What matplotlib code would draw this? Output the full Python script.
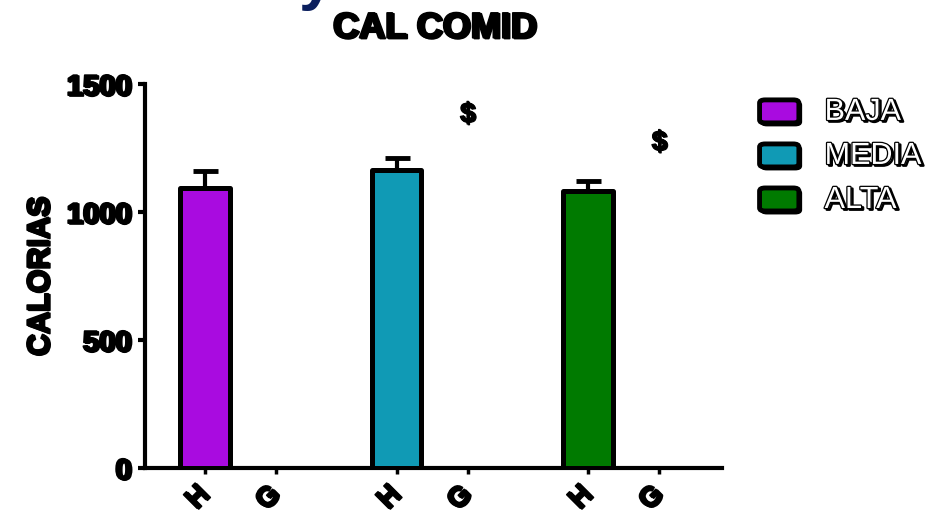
import numpy as np
import matplotlib
matplotlib.use('Agg')
import matplotlib.pyplot as plt
import matplotlib.patheffects as pe
from matplotlib.patches import FancyBboxPatch

plt.rcParams['font.family'] = ['Liberation Sans', 'DejaVu Sans']

# calories per group: H = measured, G = empty column
groups = ['BAJA', 'MEDIA', 'ALTA']
h_means = [1094, 1164, 1082]
h_errs = [66, 47, 39]
tick_labels = ['H', 'G', 'H', 'G', 'H', 'G']
sig_marks = ['', '$', '$']
sig_y = [0, 1380, 1270]
colors = ['#A90BE0', '#109AB5', '#007A00']

GROUP_STEP = 2.7
BAR_W = 0.7

def bold_fx(lw=1.2, dx=1.2):
    return [pe.Stroke(linewidth=lw, foreground='black', offset=(dx, -0.6)),
            pe.Stroke(linewidth=lw, foreground='black'), pe.Normal()]

fig = plt.figure(figsize=(9.36, 5.23), dpi=100)
ax = fig.add_axes([0.155, 0.105, 0.616, 0.734])

h_pos = np.arange(len(groups)) * GROUP_STEP
g_pos = h_pos + 1

for x, m, e, c in zip(h_pos, h_means, h_errs, colors):
    ax.errorbar(x, m, yerr=[[0], [e]], fmt='none', ecolor='black',
                elinewidth=3, capsize=9, capthick=3.5, zorder=2)
    ax.bar(x, m, width=BAR_W, color=c, edgecolor='black', linewidth=3.6,
           joinstyle='round', zorder=3)

for x, s, y in zip(g_pos, sig_marks, sig_y):
    if s:
        ax.text(x, y, s, ha='center', va='center', fontsize=20,
                fontweight='bold', path_effects=bold_fx(0.8, 0.8))

ax.set_xlim(-0.845, 7.28)
ax.set_ylim(0, 1500)
ax.set_yticks([0, 500, 1000, 1500])
ax.set_xticks(np.sort(np.concatenate([h_pos, g_pos])))
ax.set_xticklabels(tick_labels)

for side in ['top', 'right']:
    ax.spines[side].set_visible(False)
for side in ['left', 'bottom']:
    ax.spines[side].set_linewidth(3)
ax.spines['left'].set_capstyle('projecting')

ax.tick_params(axis='y', direction='out', length=5, width=3, pad=5)
ax.tick_params(axis='x', direction='out', length=4, width=2.5, pad=12)
for lab in ax.get_yticklabels():
    lab.set_fontsize(21)
    lab.set_fontweight('bold')
    lab.set_path_effects(bold_fx())
for lab in ax.get_xticklabels():
    lab.set_fontsize(20)
    lab.set_fontweight('bold')
    lab.set_rotation(45)
    lab.set_ha('right')
    lab.set_va('center')
    lab.set_rotation_mode('anchor')
    lab.set_path_effects(bold_fx())

ax.set_ylabel('CALORIAS', fontsize=22, fontweight='bold', labelpad=8,
              path_effects=bold_fx())

fig.text(0.464, 0.946, 'CAL COMID', ha='center', va='center', fontsize=26,
         fontweight='bold', path_effects=bold_fx())
# clipped heading above the title
fig.text(0.338, 1.004, 'y', ha='center', va='baseline', fontsize=46,
         fontweight='bold', color='#0B1F5E')

# legend with rounded swatches
for i, (name, c) in enumerate(zip(groups, colors)):
    y = 0.786 - i * 0.0842
    shadow = FancyBboxPatch((0.8135, y - 0.025), 0.042, 0.044,
                            boxstyle='round,pad=0,rounding_size=0.006',
                            transform=fig.transFigure, facecolor='black',
                            edgecolor='black', linewidth=2)
    sw = FancyBboxPatch((0.8115, y - 0.021), 0.042, 0.044,
                        boxstyle='round,pad=0,rounding_size=0.006',
                        transform=fig.transFigure, facecolor=c,
                        edgecolor='black', linewidth=3.5)
    fig.patches.extend([shadow, sw])
    fig.text(0.881, y, name, ha='left', va='center', fontsize=22,
             color='white',
             path_effects=[pe.Stroke(linewidth=1.8, foreground='black', offset=(1.5, -1.2)),
                           pe.Stroke(linewidth=1.8, foreground='black'), pe.Normal()])

fig.savefig('out.png', dpi=100)
